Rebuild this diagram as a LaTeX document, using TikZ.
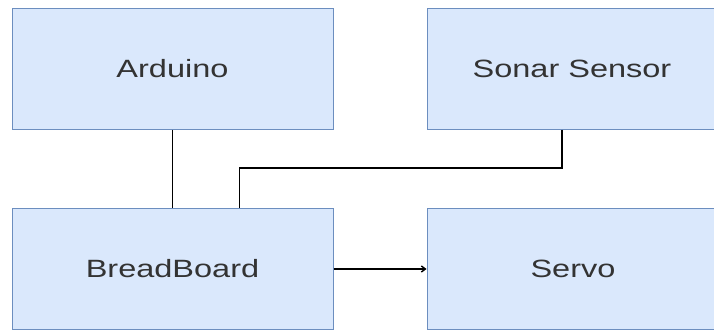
\documentclass[tikz,border=0pt]{standalone}
\usepackage{fontspec}
\setmainfont{Liberation Sans}
\usepackage{graphicx}
\usetikzlibrary{arrows.meta}

\definecolor{boxFill}{HTML}{DAE8FC}
\definecolor{boxLine}{HTML}{6C8EBF}
\definecolor{boxText}{HTML}{333333}

% text in the reference is drawn a little wide
\newcommand{\wideText}[1]{\scalebox{1.3}[1]{#1}}

\begin{document}
\begin{tikzpicture}[x=1pt,y=1pt,
  part/.style={draw=boxLine, fill=boxFill, line width=1pt, text=boxText,
    minimum height=121pt, inner sep=0pt, font=\fontsize{25}{30}\selectfont},
  wire/.style={line width=1.4pt, black}]

\useasboundingbox (0,0) rectangle (714,329);

% Define blocks
\node[part, minimum width=321pt] (arduino) at (172.5,260) {\wideText{Arduino}};
\node[part, minimum width=290pt] (sonar) at (572,260) {\wideText{Sonar Sensor}};
\node[part, minimum width=321pt] (breadboard) at (172.5,60) {\wideText{BreadBoard}};
\node[part, minimum width=292pt] (servo) at (573,60) {\wideText{Servo}};

% Wires
\draw[wire] (arduino.south) -- (breadboard.north);
\draw[wire] ([xshift=-10pt]sonar.south) -- ++(0,-38) -| ([xshift=67pt]breadboard.north);
\draw[wire, -{Straight Barb[length=4pt,width=6pt]}] (breadboard.east) -- (servo.west);

\end{tikzpicture}
\end{document}
